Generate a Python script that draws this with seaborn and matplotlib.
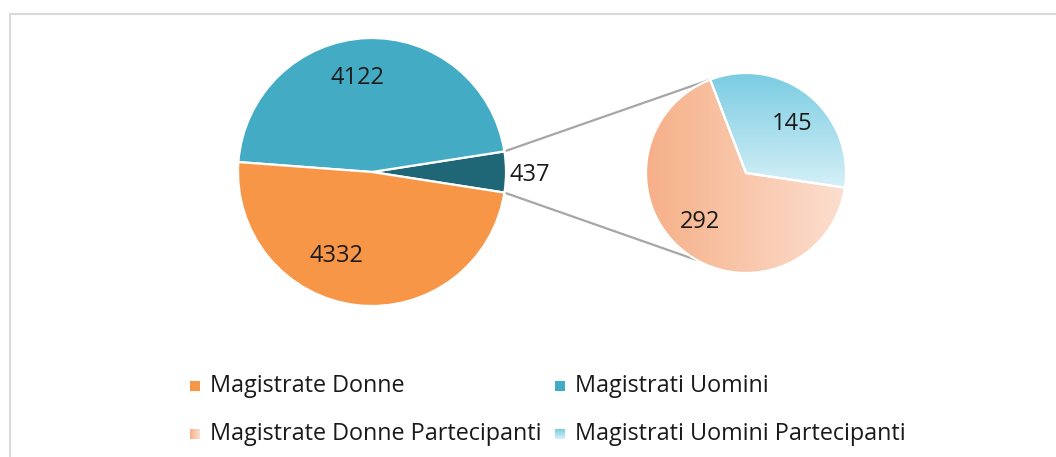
import numpy as np
import matplotlib
matplotlib.use("Agg")
import matplotlib.pyplot as plt
from matplotlib.patches import Rectangle
from matplotlib.lines import Line2D
import seaborn as sns

# ---------------- data ----------------
main_labels = ["Partecipanti", "Magistrati Uomini", "Magistrate Donne"]
main_values = [437, 4122, 4332]
sub_labels = ["Magistrate Donne Partecipanti", "Magistrati Uomini Partecipanti"]
sub_values = [292, 145]
legend_labels = ["Magistrate Donne", "Magistrati Uomini",
                 "Magistrate Donne Partecipanti", "Magistrati Uomini Partecipanti"]

# ---------------- style ----------------
sns.set_theme(style="white")
plt.rcParams["font.family"] = ["Open Sans", "DejaVu Sans"]

C_ORANGE = "#F79646"
C_TEAL = "#43ACC4"
C_DARK = "#1F6777"
OR_GRAD = (np.array([246, 176, 136]) / 255, np.array([252, 223, 207]) / 255)
BL_GRAD = (np.array([122, 204, 227]) / 255, np.array([214, 240, 247]) / 255)
main_colors = [C_DARK, C_TEAL, C_ORANGE]

W, H = 1056, 457
fig = plt.figure(figsize=(W / 100, H / 100), dpi=100)
ax = fig.add_axes([0, 0, 1, 1])


def Y(y):
    return H - y


# main pie
mc = (372, Y(172))
mr = 134
frac0 = main_values[0] / sum(main_values)
wedges_m, _ = ax.pie(main_values, colors=main_colors, center=mc, radius=mr,
                     startangle=-frac0 * 180, counterclock=True,
                     explode=[0.03, 0, 0],
                     wedgeprops=dict(edgecolor="white", linewidth=1.6))

# secondary pie
sc = (746, Y(173))
sr = 100
wedges_s, _ = ax.pie(sub_values, colors=["none", "none"], center=sc, radius=sr,
                     startangle=111, counterclock=True,
                     wedgeprops=dict(edgecolor="white", linewidth=1.6))


def gradient(c0, c1, horizontal, n=256):
    t = np.linspace(0, 1, n)
    cols = (1 - t)[:, None] * c0 + t[:, None] * c1
    return cols[None, :, :] if horizontal else cols[:, None, :]


# orange gradient across the whole secondary pie width (left -> right)
w0 = wedges_s[0]
im = ax.imshow(gradient(*OR_GRAD, horizontal=True),
               extent=(sc[0] - sr, sc[0] + sr, sc[1] - sr, sc[1] + sr),
               origin="upper", aspect="auto", interpolation="bilinear", zorder=0.5)
im.set_clip_path(w0)
w0.set_zorder(1)

# blue gradient (top -> bottom) over the blue wedge
w1 = wedges_s[1]
bb = w1.get_path().get_extents(w1.get_patch_transform())
im = ax.imshow(gradient(*BL_GRAD, horizontal=False),
               extent=(bb.x0, bb.x1, bb.y0, bb.y1),
               origin="upper", aspect="auto", interpolation="bilinear", zorder=0.5)
im.set_clip_path(w1)
w1.set_zorder(1)

# connector lines from the dark wedge to the secondary pie
dw = wedges_m[0]
dcx, dcy = dw.center
for th_main, th_sub in [(dw.theta2, 110.6), (dw.theta1, 240.6)]:
    p0 = (dcx + mr * np.cos(np.radians(th_main)), dcy + mr * np.sin(np.radians(th_main)))
    p1 = (sc[0] + sr * np.cos(np.radians(th_sub)), sc[1] + sr * np.sin(np.radians(th_sub)))
    ax.add_line(Line2D([p0[0], p1[0]], [p0[1], p1[1]], color="#A6A6A6", lw=1.6, zorder=0.3))

# data labels (polar placement: angle, radius fraction)
lab_fs = 17
main_lab_pos = [(-1, 1.18), (99, 0.71), (246.8, 0.68)]
for w, v, (ang, d) in zip(wedges_m, main_values, main_lab_pos):
    cx, cy = w.center
    ax.text(cx + d * mr * np.cos(np.radians(ang)), cy + d * mr * np.sin(np.radians(ang)),
            str(v), ha="center", va="center", fontsize=lab_fs, color="#1a1a1a", zorder=5)
sub_lab_pos = [(226.5, 0.67), (46.8, 0.67)]
for w, v, (ang, d) in zip(wedges_s, sub_values, sub_lab_pos):
    cx, cy = w.center
    ax.text(cx + d * sr * np.cos(np.radians(ang)), cy + d * sr * np.sin(np.radians(ang)),
            str(v), ha="center", va="center", fontsize=lab_fs, color="#1a1a1a", zorder=5)

# legend (manual, 2x2)
leg_fs = 16.8
leg_x = [190, 555]
leg_y = [386, 434]
leg_cols = [(C_ORANGE, None, None), (C_TEAL, None, None),
            (None, OR_GRAD, True), (None, BL_GRAD, False)]
for i, (lab, (solid, grad, horiz)) in enumerate(zip(legend_labels, leg_cols)):
    x = leg_x[i % 2]
    y = leg_y[i // 2]
    if solid is not None:
        ax.add_patch(Rectangle((x, Y(y) - 5), 10, 10, facecolor=solid, edgecolor="none"))
    else:
        ax.imshow(gradient(*grad, horizontal=horiz, n=32),
                  extent=(x, x + 10, Y(y) - 5, Y(y) + 5), origin="upper",
                  aspect="auto", interpolation="bilinear", zorder=2)
    ax.text(x + 20, Y(y) - 6, lab, ha="left", va="baseline", fontsize=leg_fs, color="#1a1a1a")

# chart-area frame (cropped on right and bottom)
ax.add_line(Line2D([9.5, 9.5, W + 5], [-5, Y(13.5), Y(13.5)], color="#D9D9D9", lw=1.5, zorder=0.1))

ax.set_xlim(0, W)
ax.set_ylim(0, H)
ax.set_aspect("auto")
ax.axis("off")
fig.savefig("out.png", dpi=100, facecolor="white")
